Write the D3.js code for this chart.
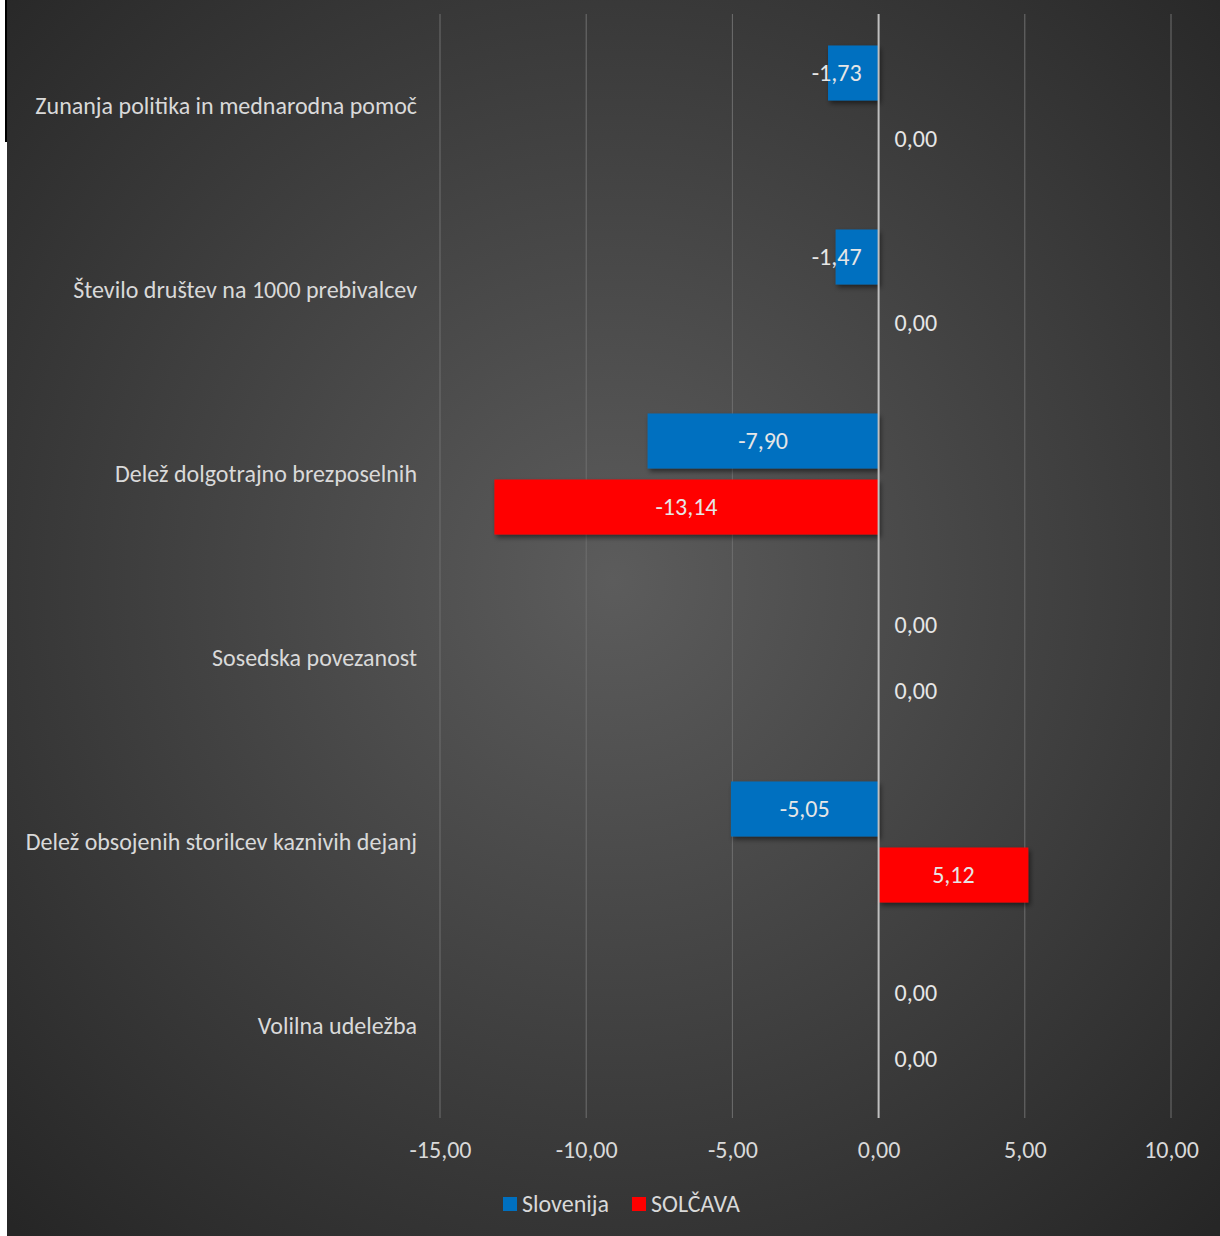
<!DOCTYPE html>
<html>
  <head>
    <meta charset="utf-8">
    <title>Kazalniki</title>
    <script src="https://d3js.org/d3.v7.min.js"></script>
    <style>
      body { margin: 0; background: #fff; }
      svg text { font-family: Calibri, Carlito, Lato, sans-serif; }
    </style>
  </head>
  <body>
<script>
// Categories, top to bottom
var categories = [
  "Zunanja politika in mednarodna pomoč",
  "Število društev na 1000 prebivalcev",
  "Delež dolgotrajno brezposelnih",
  "Sosedska povezanost",
  "Delež obsojenih storilcev kaznivih dejanj",
  "Volilna udeležba"
];
var seriesNames = ["Slovenija", "SOLČAVA"];
var seriesColors = ["#0070c0", "#ff0000"];
var slovenija = [-1.73, -1.47, -7.90, 0, -5.05, 0];
var solcava = [0, 0, -13.14, 0, 5.12, 0];
var xTicks = [-15, -10, -5, 0, 5, 10];

var width = 1220,
    height = 1236,
    plotTop = 14,
    plotBottom = 1118,
    plotLeft = 440,
    plotRight = 1171,
    fontSize = 24;

var svg = d3.select("body").append("svg")
  .attr("width", width)
  .attr("height", height);

var defs = svg.append("defs");
var grad = defs.append("radialGradient")
  .attr("id", "bg")
  .attr("cx", "50%").attr("cy", "47%").attr("r", "72%");
grad.append("stop").attr("offset", "0%").attr("stop-color", "#5c5c5c");
grad.append("stop").attr("offset", "100%").attr("stop-color", "#262626");

var shadow = defs.append("filter").attr("id", "shadow")
  .attr("x", "-10%").attr("y", "-20%").attr("width", "130%").attr("height", "150%");
shadow.append("feDropShadow")
  .attr("dx", 2).attr("dy", 3).attr("stdDeviation", 2.5)
  .attr("flood-color", "#000").attr("flood-opacity", 0.5);

// chart area
svg.append("rect")
  .attr("x", 7).attr("y", 0)
  .attr("width", width - 7).attr("height", height)
  .attr("fill", "url(#bg)");
svg.append("rect")
  .attr("x", 5).attr("y", 0)
  .attr("width", 2).attr("height", 142)
  .attr("fill", "#000");

var x = d3.scaleLinear().domain([-15, 10]).range([plotLeft, plotRight]);
var y = d3.scaleBand().domain(categories).range([plotTop, plotBottom]);
var inner = d3.scaleBand().domain(seriesNames)
  .range([0, y.bandwidth()])
  .paddingInner(1 / 6).paddingOuter(0.477);

// comma decimals, plain hyphen for minus
var fmt = function(v) { return d3.format(".2f")(v).replace("\u2212", "-").replace(".", ","); };

// gridlines
svg.append("g").selectAll("line")
  .data(xTicks.filter(function(t) { return t !== 0; }))
  .join("line")
    .attr("x1", function(d) { return x(d); })
    .attr("x2", function(d) { return x(d); })
    .attr("y1", plotTop).attr("y2", plotBottom)
    .attr("stroke", "#6e6e6e").attr("stroke-width", 1);

// x axis labels
var xAxis = d3.axisBottom(x).tickValues(xTicks).tickSize(0).tickPadding(0).tickFormat(fmt);
var xg = svg.append("g")
  .attr("transform", "translate(0," + (plotBottom + 32) + ")")
  .call(xAxis);
xg.select(".domain").remove();
xg.selectAll("text")
  .attr("fill", "#d9d9d9")
  .attr("font-size", fontSize)
  .attr("dy", "0.35em");

// category labels
var yAxis = d3.axisLeft(y).tickSize(0).tickPadding(0);
var yg = svg.append("g")
  .attr("transform", "translate(" + (plotLeft - 23) + ",0)")
  .call(yAxis);
yg.select(".domain").remove();
yg.selectAll("text")
  .attr("fill", "#d9d9d9")
  .attr("font-size", fontSize);

var rows = [];
categories.forEach(function(c, i) {
  rows.push({ cat: c, s: seriesNames[0], v: slovenija[i], color: seriesColors[0] });
  rows.push({ cat: c, s: seriesNames[1], v: solcava[i], color: seriesColors[1] });
});

// bars
svg.append("g").selectAll("rect")
  .data(rows.filter(function(d) { return d.v !== 0; }))
  .join("rect")
    .attr("x", function(d) { return x(Math.min(0, d.v)); })
    .attr("y", function(d) { return y(d.cat) + inner(d.s); })
    .attr("width", function(d) { return Math.abs(x(d.v) - x(0)); })
    .attr("height", inner.bandwidth())
    .attr("fill", function(d) { return d.color; })
    .attr("filter", "url(#shadow)");

// zero axis line
svg.append("line")
  .attr("x1", x(0)).attr("x2", x(0))
  .attr("y1", plotTop).attr("y2", plotBottom)
  .attr("stroke", "#bfbfbf").attr("stroke-width", 2);

// data labels
svg.append("g").selectAll("text")
  .data(rows)
  .join("text")
    .attr("y", function(d) { return y(d.cat) + inner(d.s) + inner.bandwidth() / 2; })
    .attr("dy", "0.35em")
    .attr("fill", "#e6e6e6")
    .attr("font-size", fontSize)
    .text(function(d) { return fmt(d.v); })
    .each(function(d) {
      var t = d3.select(this), w = this.getComputedTextLength();
      if (d.v === 0) {
        t.attr("text-anchor", "start").attr("x", x(0) + 16);
      } else {
        var cx = (x(0) + x(d.v)) / 2;
        if (d.v < 0) cx = Math.min(cx, x(0) - 17 - w / 2);
        t.attr("text-anchor", "middle").attr("x", cx);
      }
    });

// legend
var legend = svg.append("g").attr("transform", "translate(503,1204)");
var li = legend.selectAll("g").data(seriesNames).join("g")
  .attr("transform", function(d, i) { return "translate(" + (i * 129) + ",0)"; });
li.append("rect")
  .attr("x", 0).attr("y", -7).attr("width", 14).attr("height", 14)
  .attr("fill", function(d, i) { return seriesColors[i]; });
li.append("text")
  .attr("x", 19).attr("dy", "0.35em")
  .attr("fill", "#d9d9d9").attr("font-size", fontSize)
  .text(function(d) { return d; });
</script>
  </body>
</html>
